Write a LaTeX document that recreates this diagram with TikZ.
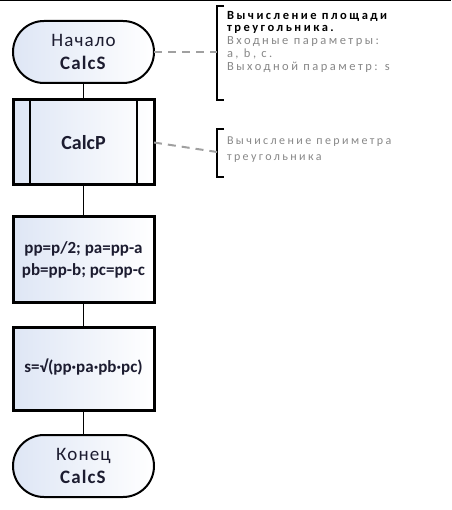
\documentclass[tikz,border=0pt]{standalone}
\usepackage{fontspec}
\setmainfont{Carlito}
\newfontfamily\notefont[LetterSpace=20]{Carlito}
\newfontfamily\termfont[LetterSpace=6]{Carlito}
\definecolor{shapefill}{RGB}{222,230,245}
\definecolor{txtdark}{RGB}{28,28,48}
\definecolor{notegray}{RGB}{135,135,135}
\definecolor{dashgray}{RGB}{160,160,160}
\begin{document}
\begin{tikzpicture}[x=1pt,y=-1pt,
  every node/.style={inner sep=0pt, outer sep=0pt},
  shapebase/.style={left color=shapefill, right color=white, text=txtdark,
    font=\fontsize{17}{22}\selectfont\bfseries, align=center,
    minimum width=141pt},
  termbox/.style={shapebase, draw=black, line width=2pt, minimum height=62pt,
    rounded corners=31pt, font=\termfont\fontsize{19}{23}\selectfont},
  procbox/.style={shapebase, draw=black, line width=3pt, minimum height=85pt},
  flow/.style={draw=black, line width=1.5pt},
  notedash/.style={draw=dashgray, line width=2pt, dash pattern=on 8pt off 6pt},
  bracket/.style={draw=black, line width=2.5pt},
  notetext/.style={anchor=north west, align=left, text=notegray}
]
\useasboundingbox (0,0) rectangle (451,510);
\draw[line width=1.5pt] (0,0.75) -- (451,0.75);

\node[termbox] (start) at (83.5,52) {Начало\\\textbf{CalcS}};
\node[procbox, font=\fontsize{20}{24}\selectfont\bfseries] (calcp) at (83.5,142.5) {CalcP};
\node[procbox] (calc1) at (83.5,259.5) {pp=p/2; pa=pp-a\\pb=pp-b; pc=pp-c};
\node[procbox, minimum height=83pt, text depth=0pt] (calc2) at (83.5,368.5) {\raisebox{6pt}{s=√(pp·pa·pb·pc)}};
\node[termbox] (finish) at (83.5,466) {Конец\\\textbf{CalcS}};

\draw[line width=2pt] ([xshift=17pt]calcp.north west) -- ([xshift=17pt]calcp.south west);
\draw[line width=2pt] ([xshift=-17pt]calcp.north east) -- ([xshift=-17pt]calcp.south east);

\draw[flow] (start) -- (calcp);
\draw[flow] (calcp) -- (calc1);
\draw[flow] (calc1) -- (calc2);
\draw[flow] (calc2) -- (finish);

% comment 1
\coordinate (b1) at (217,52);
\draw[bracket] (224,6) -- (217,6) -- (217,100) -- (224,100);
\draw[notedash] (start.east) -- (b1);
\node[notetext, font=\notefont\fontsize{12.5}{12.8}\selectfont] (note1) at (227,11)
  {\textcolor{black}{\bfseries Вычисление площади}\\
   \textcolor{black}{\bfseries треугольника.}\\
   Входные параметры:\\
   a, b, c.\\
   Выходной параметр: s};

% comment 2
\coordinate (b2) at (217,152);
\draw[bracket] (224,129) -- (217,129) -- (217,177) -- (224,177);
\draw[notedash] (calcp.east) -- (b2);
\node[notetext, font=\notefont\fontsize{12}{16}\selectfont] (note2) at (227,137)
  {Вычисление периметра\\треугольника};
\end{tikzpicture}
\end{document}
